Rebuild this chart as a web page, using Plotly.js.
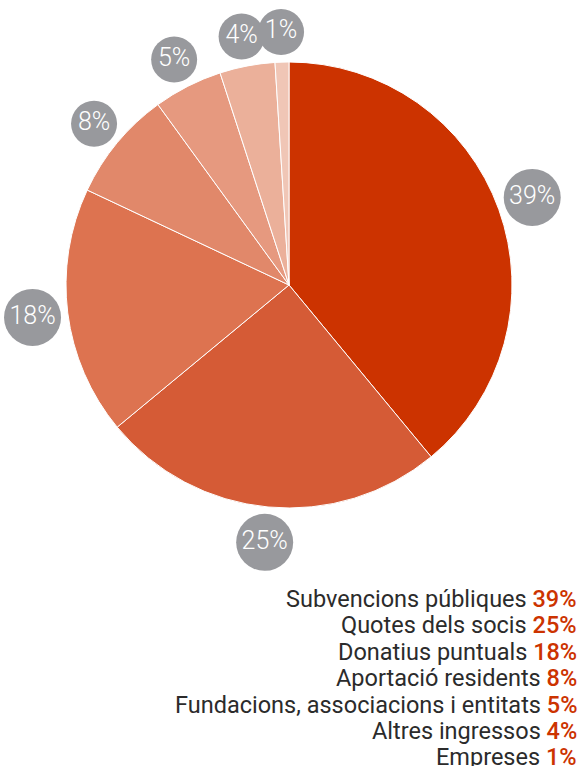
<!DOCTYPE html>
<html>
<head>
<meta charset="utf-8">
<script src="https://cdn.plot.ly/plotly-3.0.1.min.js"></script>
<style>html,body{margin:0;padding:0;background:#fff}#chart{width:580px;height:766px}</style>
</head>
<body>
<div id="chart"></div>
<script>
const categories = ["Subvencions públiques","Quotes dels socis","Donatius puntuals","Aportació residents","Fundacions, associacions i entitats","Altres ingressos","Empreses"];
const values = [39,25,18,8,5,4,1];
const sliceColors = ["#CC3300","#D55B36","#DD7350","#E1886A","#E6997F","#EBB09A","#F0C6B6"];

const W = 580, H = 766;
const cx = 289, cy = 285, R = 223;
const total = values.reduce((a,b)=>a+b,0);

// label bubble positions derived from the data (mid-angle of each slice)
const bx = [], by = [], bsize = [], btext = [];
let cum = 0;
values.forEach(v => {
  const mid = (cum + v/2)/total * 2*Math.PI;
  cum += v;
  const d = v >= 10 ? 57 : 46;
  const dist = R + d/2 + 7;
  bx.push(cx + dist*Math.sin(mid));
  by.push(cy - dist*Math.cos(mid));
  bsize.push(d);
  btext.push(v + "%");
});

const FONT = "Roboto, 'DejaVu Sans', sans-serif";

const pie = {
  type: "pie",
  labels: categories,
  values: values,
  sort: false,
  direction: "clockwise",
  rotation: 0,
  textinfo: "none",
  hoverinfo: "none",
  showlegend: false,
  marker: {colors: sliceColors, line: {color: "#ffffff", width: 1}},
  domain: {x: [(cx-R)/W, (cx+R)/W], y: [1-(cy+R)/H, 1-(cy-R)/H]}
};

const bubbles = {
  type: "scatter",
  mode: "markers+text",
  x: bx, y: by,
  text: btext,
  textposition: "middle center",
  textfont: {family: FONT, size: 25, color: "#ffffff", weight: 300},
  marker: {size: bsize, sizemode: "diameter", color: "#98999D", opacity: 1, line: {width: 0}},
  hoverinfo: "none",
  showlegend: false,
  cliponaxis: false
};

const annotations = categories.map((c, i) => ({
  xref: "x", yref: "y",
  x: 579, y: 599 + i*26.4,
  xanchor: "right", yanchor: "middle",
  showarrow: false,
  text: c + " <span style='color:#CC3300;font-weight:500'>" + values[i] + "%</span>",
  font: {family: FONT, size: 23.5, color: "#2b2b2b"}
}));

const layout = {
  width: W, height: H,
  margin: {l:0, r:0, t:0, b:0},
  paper_bgcolor: "#ffffff",
  plot_bgcolor: "rgba(0,0,0,0)",
  xaxis: {range: [0, W], visible: false, fixedrange: true},
  yaxis: {range: [H, 0], visible: false, fixedrange: true},
  annotations: annotations,
  showlegend: false
};

Plotly.newPlot("chart", [pie, bubbles], layout, {displayModeBar: false, staticPlot: true});
</script>
</body>
</html>
